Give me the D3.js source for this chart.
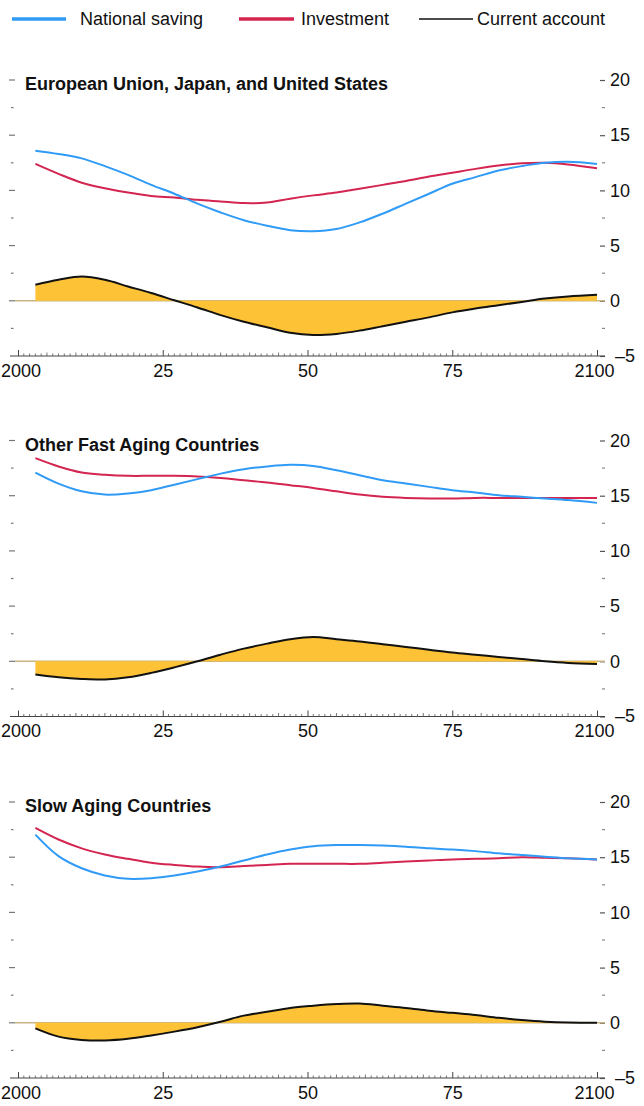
<!DOCTYPE html>
<html>
<head>
<meta charset="utf-8">
<script src="https://cdn.jsdelivr.net/npm/d3@7"></script>
<style>
  html, body { margin: 0; padding: 0; background: #fff; }
  text { font-family: "Liberation Sans", Arial, Helvetica, sans-serif; fill: #111; }
</style>
</head>
<body>
<svg id="chart" width="644" height="1106"></svg>
<script>
// Projection years shared by every series
const years = [2003, 2007, 2011, 2015, 2019, 2023, 2027, 2031, 2035, 2039, 2043, 2047,
               2051, 2055, 2059, 2063, 2067, 2071, 2075, 2079, 2083, 2087, 2091, 2095, 2100];

const panelTitles = ["European Union, Japan, and United States",
                     "Other Fast Aging Countries",
                     "Slow Aging Countries"];

const seriesNames = ["National saving", "Investment", "Current account"];

// European Union, Japan, and United States (percent of GDP)
const savingEJU = [13.6, 13.3, 12.9, 12.2, 11.4, 10.5, 9.7, 8.8, 8.0, 7.3, 6.8, 6.4,
                   6.3, 6.5, 7.1, 7.9, 8.8, 9.7, 10.6, 11.2, 11.8, 12.2, 12.5, 12.6, 12.4];
const investEJU = [12.4, 11.5, 10.7, 10.2, 9.8, 9.5, 9.35, 9.15, 9.0, 8.85, 8.9, 9.25,
                   9.55, 9.8, 10.15, 10.5, 10.85, 11.25, 11.6, 11.95, 12.25, 12.45, 12.5, 12.35, 12.0];
const currentEJU = [1.45, 1.9, 2.2, 1.9, 1.3, 0.7, 0.05, -0.6, -1.3, -1.9, -2.4, -2.9,
                    -3.1, -3.0, -2.7, -2.3, -1.9, -1.5, -1.05, -0.7, -0.4, -0.1, 0.2, 0.4, 0.55];

// Other fast aging countries
const savingFast = [17.1, 16.1, 15.4, 15.1, 15.2, 15.5, 16.0, 16.5, 17.0, 17.4, 17.65, 17.8,
                    17.7, 17.3, 16.85, 16.4, 16.1, 15.8, 15.5, 15.3, 15.05, 14.9, 14.75, 14.6, 14.35];
const investFast = [18.4, 17.65, 17.1, 16.9, 16.8, 16.8, 16.8, 16.75, 16.6, 16.4, 16.2, 15.95,
                    15.7, 15.4, 15.1, 14.9, 14.8, 14.75, 14.75, 14.8, 14.8, 14.8, 14.8, 14.8, 14.8];
const currentFast = [-1.2, -1.45, -1.6, -1.65, -1.45, -1.05, -0.55, 0.0, 0.6, 1.15, 1.6, 2.0,
                     2.2, 2.0, 1.8, 1.55, 1.3, 1.05, 0.8, 0.6, 0.4, 0.2, 0.0, -0.15, -0.25];

// Slow aging countries
const savingSlow = [17.05, 15.1, 14.0, 13.35, 13.05, 13.1, 13.35, 13.7, 14.15, 14.7, 15.25, 15.7,
                    16.0, 16.1, 16.1, 16.05, 15.95, 15.8, 15.7, 15.55, 15.35, 15.2, 15.05, 14.9, 14.8];
const investSlow = [17.65, 16.6, 15.8, 15.25, 14.85, 14.5, 14.3, 14.15, 14.1, 14.2, 14.3, 14.4,
                    14.4, 14.4, 14.4, 14.5, 14.6, 14.7, 14.8, 14.85, 14.9, 15.0, 14.95, 14.9, 14.8];
const currentSlow = [-0.5, -1.25, -1.55, -1.6, -1.45, -1.15, -0.8, -0.4, 0.1, 0.65, 1.0, 1.35,
                     1.55, 1.7, 1.75, 1.55, 1.35, 1.1, 0.9, 0.7, 0.45, 0.25, 0.1, 0.02, 0.0];

// Axis ticks
const xTickValues = [2000, 2025, 2050, 2075, 2100];
const xTickLabels = ["2000", "25", "50", "75", "2100"];
const yTickValues = [-5, 0, 5, 10, 15, 20];
const yTickLabels = ["\u20135", "0", "5", "10", "15", "20"];

const panels = [
  { title: panelTitles[0], saving: savingEJU,  invest: investEJU,  current: currentEJU },
  { title: panelTitles[1], saving: savingFast, invest: investFast, current: currentFast },
  { title: panelTitles[2], saving: savingSlow, invest: investSlow, current: currentSlow }
];

const colors = { saving: "#2f9bf7", invest: "#d42450", current: "#111", fill: "#fdc236", zero: "#c9b483" };

const svg = d3.select("#chart");
const x = d3.scaleLinear().domain([2000, 2100]).range([18, 597]);
const panelBottoms = [356, 716.5, 1078];
const panelHeight = 276;

// Legend
const legend = svg.append("g").attr("class", "legend");
const legendItems = [
  { name: seriesNames[0], color: colors.saving,  x1: 12,  x2: 66,  tx: 80,  w: 3.5 },
  { name: seriesNames[1], color: colors.invest,  x1: 239, x2: 294, tx: 301, w: 3.5 },
  { name: seriesNames[2], color: colors.current, x1: 419, x2: 473, tx: 477, w: 1.6 }
];
legendItems.forEach(d => {
  legend.append("line").attr("x1", d.x1).attr("x2", d.x2).attr("y1", 19).attr("y2", 19)
    .attr("stroke", d.color).attr("stroke-width", d.w);
  legend.append("text").attr("x", d.tx).attr("y", 25).attr("font-size", 18).text(d.name);
});

panels.forEach((p, i) => {
  const bottom = panelBottoms[i];
  const y = d3.scaleLinear().domain([-5, 20]).range([bottom, bottom - panelHeight]);
  const g = svg.append("g").attr("class", "panel");

  const ptsS = years.map((yr, k) => [yr, p.saving[k]]);
  const ptsI = years.map((yr, k) => [yr, p.invest[k]]);
  const ptsC = years.map((yr, k) => [yr, p.current[k]]);

  // Left minor / major ticks (no labels)
  const leftTicks = d3.range(-2.5, 20.01, 2.5);
  g.selectAll(".lt").data(leftTicks).join("line")
    .attr("x1", d => d % 5 === 0 ? 9 : 11)
    .attr("x2", d => d % 5 === 0 ? 15 : 13.5)
    .attr("y1", d => y(d)).attr("y2", d => y(d))
    .attr("stroke", "#777").attr("stroke-width", 1.2);

  // Right axis with labels
  const rightAxis = d3.axisRight(y).tickValues(yTickValues).tickSize(5).tickPadding(5)
    .tickFormat((d, k) => yTickLabels[k]);
  const ra = g.append("g").attr("transform", "translate(600,0)").call(rightAxis);
  ra.select(".domain").remove();
  ra.selectAll(".tick line").attr("stroke", "#555").attr("stroke-width", 1.2);
  ra.selectAll(".tick text").attr("font-size", 18).attr("fill", "#111")
    .attr("font-family", "Liberation Sans, Arial, sans-serif");
  ra.selectAll(".tick").filter(d => d === -5).select("text")
    .attr("x", 15).attr("dy", "0.3em");

  const rightMinor = d3.range(-2.5, 20, 5);
  g.selectAll(".rm").data(rightMinor).join("line")
    .attr("x1", 602).attr("x2", 605)
    .attr("y1", d => y(d)).attr("y2", d => y(d))
    .attr("stroke", "#888").attr("stroke-width", 1.2);

  // Zero reference line
  g.append("line").attr("x1", 15).attr("x2", 605).attr("y1", y(0)).attr("y2", y(0))
    .attr("stroke", colors.zero).attr("stroke-width", 1.5);

  // Current account shaded area
  const curve = d3.curveCatmullRom.alpha(0.5);
  const area = d3.area().x(d => x(d[0])).y0(y(0)).y1(d => y(d[1])).curve(curve);
  g.append("path").datum(ptsC).attr("d", area).attr("fill", colors.fill);

  const line = d3.line().x(d => x(d[0])).y(d => y(d[1])).curve(curve);
  g.append("path").datum(ptsC).attr("d", line).attr("fill", "none")
    .attr("stroke", colors.current).attr("stroke-width", 2);
  g.append("path").datum(ptsI).attr("d", line).attr("fill", "none")
    .attr("stroke", colors.invest).attr("stroke-width", 2);
  g.append("path").datum(ptsS).attr("d", line).attr("fill", "none")
    .attr("stroke", colors.saving).attr("stroke-width", 2);

  // Bottom axis: yearly minor ticks pointing up, labelled quarter-century ticks
  const xa = g.append("g").attr("transform", `translate(0,${bottom})`);
  xa.append("line").attr("x1", 10).attr("x2", 605).attr("y1", 0).attr("y2", 0)
    .attr("stroke", "#444").attr("stroke-width", 1.2);
  const minorYears = d3.range(2000, 2101, 1).filter(v => v % 25 !== 0);
  xa.selectAll(".mt").data(minorYears).join("line")
    .attr("x1", d => x(d)).attr("x2", d => x(d))
    .attr("y1", 0).attr("y2", d => d % 5 === 0 ? -3.5 : -2.5)
    .attr("stroke", "#555").attr("stroke-width", 0.8);
  const bottomAxis = d3.axisBottom(x).tickValues(xTickValues).tickSizeInner(-6).tickSizeOuter(0)
    .tickPadding(8).tickFormat((d, k) => xTickLabels[k]);
  const ba = xa.append("g").call(bottomAxis);
  ba.select(".domain").remove();
  ba.selectAll(".tick line").attr("stroke", "#444").attr("stroke-width", 1);
  ba.selectAll(".tick text").attr("font-size", 18).attr("fill", "#111")
    .attr("font-family", "Liberation Sans, Arial, sans-serif");
  // keep the end labels inside the frame
  ba.selectAll(".tick").filter(d => d === 2000).select("text")
    .attr("text-anchor", "start").attr("x", -x(2000) + 0.5);
  ba.selectAll(".tick").filter(d => d === 2100).select("text")
    .attr("text-anchor", "end").attr("x", 17);

  // Panel title
  g.append("text").attr("x", 25).attr("y", y(20) + 10)
    .attr("font-size", 18).attr("font-weight", "bold").text(p.title);
});
</script>
</body>
</html>
